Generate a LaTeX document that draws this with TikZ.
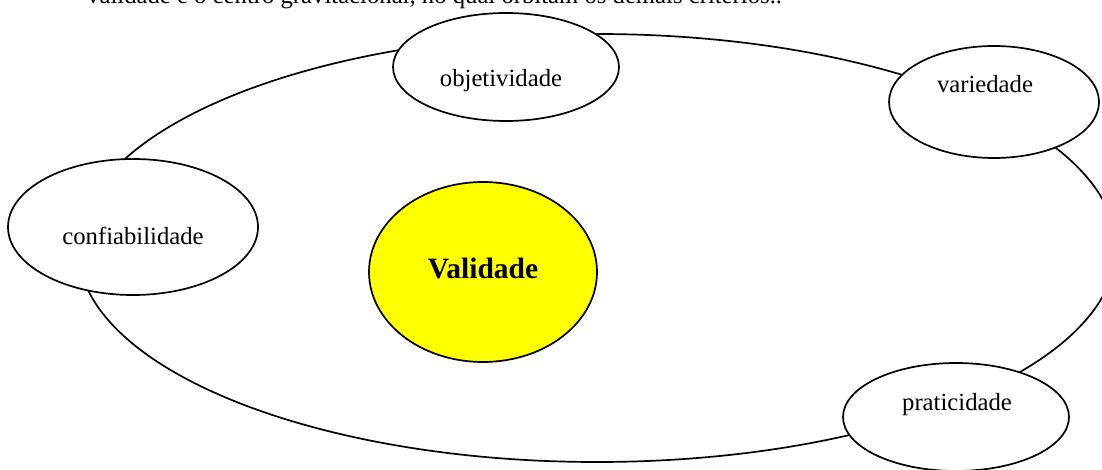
\documentclass[tikz,border=0pt]{standalone}
\usepackage{fontspec}
\setmainfont{Liberation Serif}
\usetikzlibrary{shapes.geometric}
\definecolor{pureyellow}{RGB}{255,255,0}
\tikzset{
  ring/.style={draw=black, line width=1.7pt, ellipse, inner sep=0pt, outer sep=0pt},
  sat/.style={ring, fill=white},
  lbl/.style={anchor=base, inner sep=0pt, font=\fontsize{24.7}{30}\selectfont},
  core/.style={ring, fill=pureyellow},
}
\begin{document}
\begin{tikzpicture}[x=1pt,y=-1pt]
\useasboundingbox (0,0) rectangle (1102,470);
\clip (0,0) rectangle (1102,470);
\node[anchor=base west, inner sep=0pt, font=\fontsize{24.7}{30}\selectfont] (intro) at (87,3.5) {validade é o centro gravitacional, no qual orbitam os demais critérios..};
\node[ring, minimum width=1038pt, minimum height=428pt] (orbit) at (597,248) {};
\node[sat, minimum width=250pt, minimum height=136pt] (conf) at (133,227) {};
\node[sat, minimum width=226pt, minimum height=108pt] (obj) at (506,67) {};
\node[sat, minimum width=210pt, minimum height=112pt] (var) at (994,102) {};
\node[sat, minimum width=226pt, minimum height=108pt] (prat) at (956,417) {};
\node[core, minimum width=228pt, minimum height=180pt] (val) at (483,272) {};
\node[lbl] (conft) at (133,244) {confiabilidade};
\node[lbl] (objt) at (501,87) {objetividade};
\node[lbl] (vart) at (985,93) {variedade};
\node[lbl] (pratt) at (957,410) {praticidade};
\node[lbl, font=\fontsize{29.5}{34}\selectfont\bfseries] (valt) at (483,278) {Validade};
\end{tikzpicture}
\end{document}
